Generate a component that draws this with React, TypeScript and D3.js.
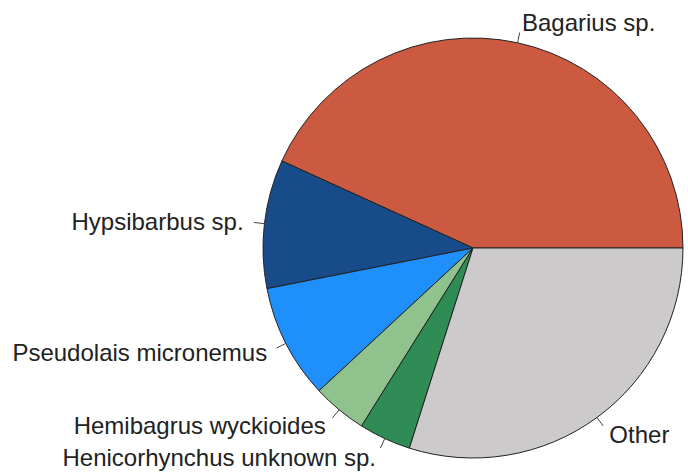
import * as d3 from 'd3';
import React, { useEffect, useRef } from 'react';

// species share of catch (%)
const species = [
  'Bagarius sp.',
  'Hypsibarbus sp.',
  'Pseudolais micronemus',
  'Hemibagrus wyckioides',
  'Henicorhynchus unknown sp.',
  'Other',
];
const shares = [43.2, 9.9, 8.8, 4.2, 4.0, 29.9];
const colors = ['#cb5a41', '#184b8a', '#1f8ffc', '#8fc28c', '#2f8c55', '#cccaca'];

const App = () => {
  const svgRef = useRef<SVGSVGElement>(null);

  useEffect(() => {
    const width = 688;
    const height = 473;
    const cx = 473;
    const cy = 248;
    const r = 210;

    const svg = d3.select(svgRef.current);
    svg.selectAll('*').remove();
    svg.attr('width', width).attr('height', height);

    const data = species.map((name, i) => ({ name, value: shares[i], color: colors[i] }));

    // R-style pie: start at 3 o'clock, go counter-clockwise
    const pie = d3.pie<any>()
      .sort(null)
      .value(d => d.value)
      .startAngle(Math.PI / 2)
      .endAngle(Math.PI / 2 - 2 * Math.PI);

    const arc = d3.arc<any>().innerRadius(0).outerRadius(r);
    const arcs = pie(data);

    const g = svg.append('g').attr('transform', `translate(${cx},${cy})`);

    g.selectAll('path')
      .data(arcs)
      .enter()
      .append('path')
      .attr('d', arc)
      .attr('fill', d => d.data.color)
      .attr('stroke', '#222')
      .attr('stroke-width', 1);

    // tick marks and labels
    arcs.forEach(d => {
      const mid = (d.startAngle + d.endAngle) / 2;
      const sx = Math.sin(mid);
      const sy = -Math.cos(mid);
      g.append('line')
        .attr('x1', sx * r)
        .attr('y1', sy * r)
        .attr('x2', sx * r * 1.05)
        .attr('y2', sy * r * 1.05)
        .attr('stroke', '#444')
        .attr('stroke-width', 1);
      g.append('text')
        .attr('x', sx * r * 1.1)
        .attr('y', sy * r * 1.1)
        .attr('dy', '0.35em')
        .attr('text-anchor', sx < 0 ? 'end' : 'start')
        .attr('font-family', 'Liberation Sans, Arial, sans-serif')
        .attr('font-size', 24)
        .attr('fill', '#222')
        .text(d.data.name);
    });
  }, []);

  return <svg ref={svgRef} style={{ position: 'absolute', left: 0, top: 0, background: '#fff' }}></svg>;
};

export default App;
